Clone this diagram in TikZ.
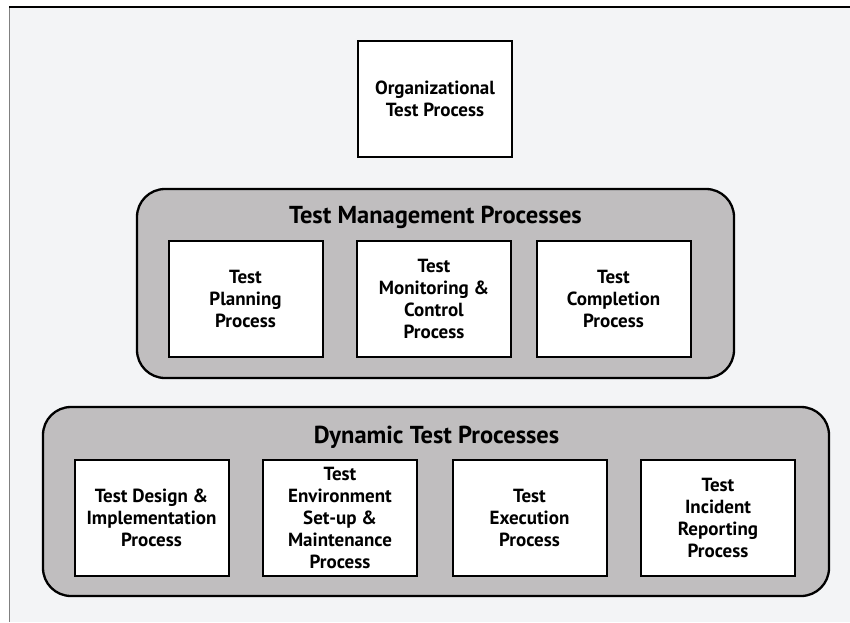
\documentclass[tikz,border=0pt]{standalone}
\usepackage{fontspec}
\setmainfont{PT Sans}
\usepackage{tikz}
\usetikzlibrary{positioning}

\definecolor{pagebg}{RGB}{243,244,246}
\definecolor{groupfill}{RGB}{192,190,191}

\begin{document}
\begin{tikzpicture}[x=1pt, y=-1pt]
		\tikzstyle{Process}	= [rectangle, draw=black, line width=2pt, fill=white, minimum width=154pt, minimum height=116pt, inner sep=0pt, align=center, font=\fontsize{19}{22}\selectfont\bfseries]
		\tikzstyle{Group}	= [rectangle, rounded corners=28pt, draw=black, line width=2.3pt, fill=groupfill, inner sep=0pt]
		\tikzstyle{Title}	= [font=\fontsize{24.5}{28}\selectfont\bfseries]
		
		\useasboundingbox (0,0) rectangle (850,622);
		\fill [white] (0,0) rectangle (850,622);
		\fill [pagebg] (9,7) rectangle (850,622);
		\draw [gray, line width=1pt] (9,7) -- (9,622);
		\draw [black, line width=1.5pt] (9,7) -- (850,7);
		
		\node (org) at (435, 98.5) [Process] {Organizational\\Test Process};
		
		\node (tm) at (435.5, 283.5) [Group, minimum width=597pt, minimum height=189pt] {};
		\node (tmtitle) at (435.5, 217) [Title] {Test Management Processes};
		\node (plan) at (245.5, 299) [Process] {Test\\Planning\\Process};
		\node (monitor) at (434, 299) [Process] {Test\\Monitoring \&\\Control\\Process};
		\node (complete) at (613.5, 299) [Process] {Test\\Completion\\Process};
		
		\node (dt) at (436, 501.5) [Group, minimum width=786pt, minimum height=189pt] {};
		\node (dttitle) at (436.5, 437) [Title] {Dynamic Test Processes};
		\node (design) at (151.5, 517.5) [Process] {Test Design \&\\Implementation\\Process};
		\node (env) at (340, 518) [Process] {Test\\Environment\\Set-up \&\\Maintenance\\Process};
		\node (exec) at (529.5, 518) [Process] {Test\\Execution\\Process};
		\node (incident) at (718, 517.5) [Process] {Test\\Incident\\Reporting\\Process};
	\end{tikzpicture}
\end{document}
